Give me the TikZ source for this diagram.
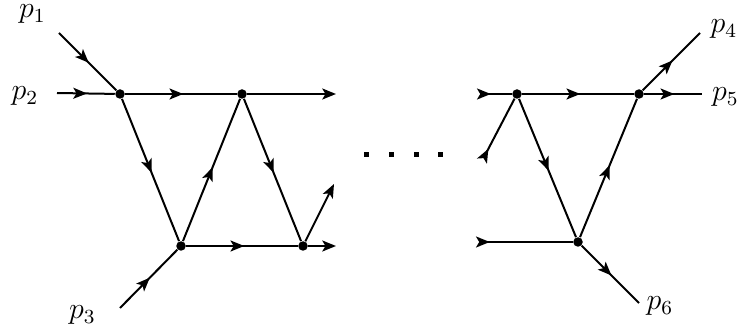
\documentclass[tikz,border=0pt]{standalone}
\usetikzlibrary{arrows.meta,decorations.markings}
\tikzset{
  >=Stealth,
  hd/.tip={Stealth[length=5.5pt, width=4.4pt, inset=1.3pt]},
  vtx/.style   ={circle, fill=black, inner sep=0pt, minimum size=3.8pt},
  ddot/.style  ={rectangle, fill=black, inner sep=0pt, minimum size=2pt},
  lbl/.style   ={font=\fontsize{11.5}{13}\selectfont, inner sep=0pt},
  line/.style  ={line width=0.8pt},
  marr/.style  ={line, postaction={decorate}, decoration={markings, mark=at position 0.52 with {\arrow{hd}}}},
  tarr/.style  ={line, -{hd}},
  sarr/.style  ={line, {hd[reversed]}-},
}
\begin{document}
\begin{tikzpicture}[x=0.4pt, y=-0.4pt]
  \useasboundingbox (0,0) rectangle (739,332);
  % vertices, left part
  \node[vtx] (a) at (120,94) {};
  \node[vtx] (b) at (242,94) {};
  \node[vtx] (c) at (181,246) {};
  \node[vtx] (d) at (303,246) {};
  % vertices, right part
  \node[vtx] (e) at (517,94) {};
  \node[vtx] (f) at (639,94) {};
  \node[vtx] (g) at (578,242) {};

  % free ends
  \coordinate (p1end) at (59,33);
  \coordinate (p2end) at (57,93);
  \coordinate (p3end) at (120,308);
  \coordinate (p4end) at (700,33);
  \coordinate (p5end) at (702,94);
  \coordinate (p6end) at (639,303);
  \coordinate (bout) at (336,94);
  \coordinate (dup) at (334,184);
  \coordinate (dout) at (336,246);
  \coordinate (ein) at (477,94);
  \coordinate (edown) at (482,161);
  \coordinate (gin) at (476,242);

  \node[lbl] (l1) at (32.5,14) {$p_1$};
  \node[lbl] (l2) at (25,96) {$p_2$};
  \node[lbl] (l3) at (82.5,315) {$p_3$};
  \node[lbl] (l4) at (724,29) {$p_4$};
  \node[lbl] (l5) at (725.5,97) {$p_5$};
  \node[lbl] (l6) at (660,306) {$p_6$};

  \draw[marr] (p1end) -- (a);
  \draw[marr] (p2end) -- (a);
  \draw[marr] (p3end) -- (c);
  \draw[marr] (a) -- (b);
  \draw[marr] (a) -- (c);
  \draw[marr] (c) -- (b);
  \draw[marr] (b) -- (d);
  \draw[marr] (c) -- (d);
  \draw[tarr] (b) -- (bout);
  \draw[tarr] (d) -- (dup);
  \draw[tarr] (d) -- (dout);

  \draw[sarr] (ein) -- (e);
  \draw[sarr] (gin) -- (g);
  \draw[sarr] (edown) -- (e);
  \draw[marr] (e) -- (f);
  \draw[marr] (e) -- (g);
  \draw[marr] (g) -- (f);
  \draw[marr] (f) -- (p4end);
  \draw[marr] (f) -- (p5end);
  \draw[marr] (g) -- (p6end);

  \foreach \i/\x in {1/366,2/391,3/416,4/440}
    \node[ddot] (dot\i) at (\x,155) {};
\end{tikzpicture}
\end{document}
